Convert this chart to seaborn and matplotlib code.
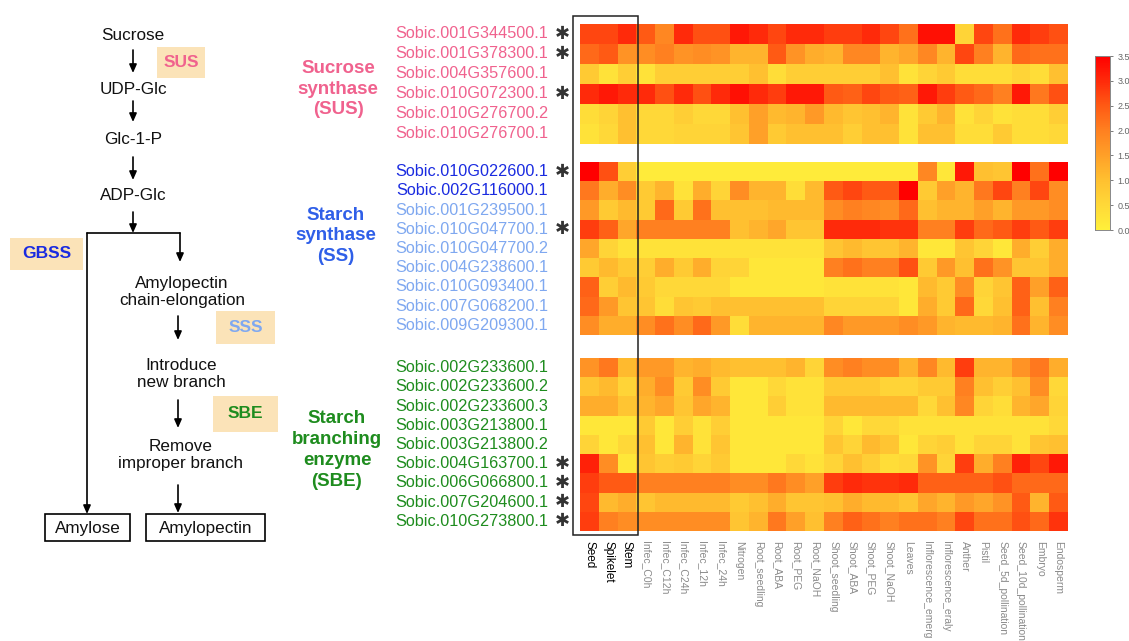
import numpy as np
import pandas as pd
import seaborn as sns
import matplotlib.pyplot as plt
from matplotlib.colors import LinearSegmentedColormap
from matplotlib.patches import Rectangle

# tissues / conditions (columns of the heatmap)
tissues = ["Seed", "Spikelet", "Stem", "Infec_C0h", "Infec_C12h", "Infec_C24h",
           "Infec_12h", "Infec_24h", "Nitrogen", "Root_seedling", "Root_ABA",
           "Root_PEG", "Root_NaOH", "Shoot_seedling", "Shoot_ABA", "Shoot_PEG",
           "Shoot_NaOH", "Leaves", "Inflorescence_emerg", "Inflorescence_eraly",
           "Anther", "Pistil", "Seed_5d_pollination", "Seed_10d_pollination",
           "Embryo", "Endosperm"]

sus_genes = ["Sobic.001G344500.1", "Sobic.001G378300.1", "Sobic.004G357600.1",
             "Sobic.010G072300.1", "Sobic.010G276700.2", "Sobic.010G276700.1"]
sus_star = [True, True, False, True, False, False]
sus_values = [
    [2.7, 2.7, 3.0, 2.5, 1.9, 3.0, 2.6, 2.6, 3.2, 3.0, 2.7, 3.0, 3.0, 2.8, 2.8, 3.0, 2.7, 2.2, 3.3, 3.3, 0.6, 2.7, 2.2, 3.0, 2.8, 2.6],
    [2.3, 2.5, 1.7, 1.8, 2.0, 1.7, 1.8, 1.7, 1.2, 1.2, 2.5, 1.7, 1.3, 1.2, 1.9, 1.9, 1.2, 1.4, 1.9, 1.2, 2.7, 2.0, 1.2, 2.3, 2.2, 2.2],
    [0.8, 0.3, 0.7, 0.3, 0.7, 0.7, 0.7, 0.7, 0.7, 1.0, 0.4, 0.7, 0.7, 0.7, 0.7, 0.7, 1.0, 0.3, 0.6, 0.8, 0.4, 0.4, 0.4, 0.6, 0.4, 1.0],
    [3.0, 3.2, 3.0, 3.0, 2.6, 3.0, 2.6, 3.0, 3.3, 3.0, 2.8, 3.2, 3.2, 2.5, 2.4, 2.7, 2.5, 2.4, 3.2, 2.8, 2.5, 2.3, 2.0, 3.2, 2.1, 2.6],
    [0.4, 0.6, 1.0, 0.5, 0.5, 0.7, 0.5, 0.5, 1.0, 1.5, 1.1, 1.2, 1.6, 1.1, 0.9, 1.0, 1.2, 0.3, 0.8, 1.2, 0.3, 0.6, 0.3, 0.4, 0.4, 0.7],
    [0.3, 0.5, 1.0, 0.5, 0.5, 0.6, 0.6, 0.6, 0.9, 1.5, 0.8, 1.0, 1.0, 1.0, 0.7, 1.0, 1.0, 0.3, 1.0, 1.0, 0.4, 0.4, 0.8, 0.4, 0.4, 0.5],
]

ss_genes = ["Sobic.010G022600.1", "Sobic.002G116000.1", "Sobic.001G239500.1",
            "Sobic.010G047700.1", "Sobic.010G047700.2", "Sobic.004G238600.1",
            "Sobic.010G093400.1", "Sobic.007G068200.1", "Sobic.009G209300.1"]
ss_star = [True, False, False, True, False, False, False, False, False]
ss_values = [
    [3.5, 2.6, 0.7, 0.1, 0.1, 0.1, 0.1, 0.1, 0.1, 0.1, 0.1, 0.1, 0.1, 0.1, 0.1, 0.1, 0.1, 0.1, 1.9, 0.2, 3.2, 1.0, 0.9, 3.5, 2.2, 3.5],
    [2.1, 1.3, 1.8, 0.8, 1.2, 0.3, 1.3, 0.6, 1.8, 1.2, 1.2, 0.4, 1.1, 2.5, 2.7, 2.5, 2.5, 3.5, 0.8, 1.5, 1.2, 2.1, 2.7, 2.0, 2.7, 1.8],
    [1.6, 0.8, 1.1, 0.8, 2.3, 0.8, 2.2, 1.0, 1.0, 1.0, 1.1, 1.1, 1.1, 1.8, 2.0, 1.9, 1.8, 2.3, 1.0, 1.2, 1.2, 1.5, 1.2, 1.6, 1.6, 1.8],
    [2.8, 2.4, 1.4, 2.0, 2.0, 2.0, 2.0, 2.0, 1.0, 1.2, 1.4, 0.9, 0.9, 3.0, 3.0, 3.0, 2.9, 2.9, 2.0, 2.0, 2.8, 2.3, 2.5, 2.8, 2.5, 2.8],
    [1.4, 0.6, 0.3, 0.3, 0.3, 0.3, 0.3, 0.3, 0.3, 0.3, 0.3, 0.3, 0.3, 0.9, 1.1, 0.9, 0.9, 1.2, 0.2, 0.2, 0.9, 0.6, 0.2, 1.3, 0.7, 1.3],
    [0.8, 1.1, 0.8, 0.7, 1.3, 0.8, 1.3, 0.6, 0.6, 0.2, 0.2, 0.2, 0.2, 2.0, 2.2, 2.0, 2.0, 2.6, 0.8, 1.6, 1.0, 2.2, 1.7, 0.9, 0.9, 1.3],
    [2.4, 0.7, 1.1, 0.8, 0.5, 0.5, 0.5, 0.5, 0.2, 0.2, 0.2, 0.2, 0.2, 0.3, 0.3, 0.3, 0.3, 0.2, 1.1, 0.8, 1.8, 0.6, 0.9, 2.4, 1.5, 2.4],
    [2.3, 1.6, 0.9, 0.9, 0.4, 0.9, 0.8, 1.0, 1.0, 1.0, 1.0, 1.0, 1.0, 0.6, 0.6, 0.6, 0.6, 0.2, 1.3, 0.8, 2.3, 0.5, 1.0, 2.4, 1.0, 2.0],
    [1.8, 1.3, 1.3, 1.8, 2.2, 1.8, 2.3, 1.6, 0.4, 1.2, 1.2, 1.2, 1.2, 1.9, 1.6, 1.6, 1.6, 1.8, 1.6, 1.2, 1.1, 1.1, 1.2, 2.2, 1.2, 1.8],
]

sbe_genes = ["Sobic.002G233600.1", "Sobic.002G233600.2", "Sobic.002G233600.3",
             "Sobic.003G213800.1", "Sobic.003G213800.2", "Sobic.004G163700.1",
             "Sobic.006G066800.1", "Sobic.007G204600.1", "Sobic.010G273800.1"]
sbe_star = [False, False, False, False, False, True, True, True, True]
sbe_values = [
    [1.7, 2.1, 1.1, 1.6, 1.6, 1.2, 1.3, 1.1, 1.0, 1.0, 1.0, 1.2, 0.6, 1.8, 2.0, 1.8, 1.8, 1.2, 1.9, 1.1, 2.8, 1.2, 1.2, 1.7, 2.1, 1.3],
    [0.9, 1.1, 0.6, 1.3, 1.8, 0.8, 1.8, 0.8, 0.2, 0.2, 0.5, 0.3, 0.3, 0.8, 0.8, 0.8, 0.6, 0.6, 0.8, 0.8, 2.0, 1.0, 0.7, 1.0, 1.8, 0.5],
    [1.3, 1.3, 0.9, 1.2, 1.4, 0.9, 1.4, 1.2, 0.2, 0.2, 0.7, 0.3, 0.3, 1.1, 1.1, 1.1, 1.1, 1.1, 0.5, 1.0, 1.9, 0.6, 0.4, 1.2, 1.4, 0.6],
    [0.2, 0.2, 0.2, 0.8, 0.2, 0.7, 0.3, 0.7, 0.2, 0.2, 0.2, 0.2, 0.2, 0.6, 0.2, 0.5, 0.5, 0.3, 0.3, 0.3, 0.3, 0.3, 0.3, 0.3, 0.3, 0.5],
    [0.6, 0.2, 0.5, 1.0, 0.2, 1.2, 0.3, 0.9, 0.2, 0.2, 0.2, 0.2, 0.2, 0.9, 0.6, 1.1, 0.9, 0.2, 0.6, 0.7, 0.3, 0.6, 0.6, 0.3, 0.9, 1.0],
    [3.1, 1.8, 0.2, 0.9, 0.7, 0.8, 0.6, 0.8, 0.2, 0.2, 0.2, 0.5, 0.3, 0.6, 1.0, 0.7, 0.4, 0.5, 1.7, 0.6, 2.8, 1.3, 2.0, 3.1, 2.7, 3.2],
    [2.8, 2.5, 2.5, 2.0, 2.0, 2.0, 2.0, 2.0, 1.8, 1.8, 2.1, 1.8, 1.5, 2.8, 3.0, 2.9, 2.9, 3.0, 2.4, 2.4, 2.4, 2.4, 2.6, 2.3, 2.3, 2.3],
    [2.7, 1.1, 1.3, 0.9, 1.1, 1.1, 1.1, 1.1, 0.8, 1.0, 1.3, 0.9, 0.9, 1.0, 1.3, 1.1, 1.1, 0.9, 1.4, 1.2, 1.6, 1.4, 1.7, 2.5, 1.2, 2.5],
    [2.8, 2.0, 1.8, 1.8, 1.8, 1.8, 1.8, 1.8, 0.9, 1.2, 2.1, 1.5, 1.0, 2.0, 2.4, 2.2, 2.0, 2.2, 2.2, 2.0, 2.7, 2.2, 2.2, 2.6, 2.3, 2.9],
]

sns.set_style("white")
plt.rcParams['font.family'] = ['Liberation Sans', 'DejaVu Sans']

W, H = 1129, 641
fig = plt.figure(figsize=(W / 100, H / 100), dpi=100)

heat_cmap = LinearSegmentedColormap.from_list(
    "yor", ["#FFF03A", "#FFD838", "#FFC030", "#FFA028", "#FF8020", "#FF5A14", "#FF2A0A", "#FF0000"])

pink = "#F0628E"
dark_blue = "#1A2BE0"
light_blue = "#7FA8F0"
green = "#1E8C1E"


def fig_box(x0, y0, x1, y1):
    # pixel box (top-left origin) -> figure fraction rect
    return [x0 / W, 1 - y1 / H, (x1 - x0) / W, (y1 - y0) / H]


hx0, hx1 = 580, 1068
blocks = [
    (sus_genes, sus_values, sus_star, [pink] * 6, (24, 144)),
    (ss_genes, ss_values, ss_star, [dark_blue] * 2 + [light_blue] * 7, (162, 335)),
    (sbe_genes, sbe_values, sbe_star, [green] * 9, (358, 531)),
]

cax = fig.add_axes(fig_box(1095, 56, 1110, 230))
axes = []
for i, (genes, vals, stars, colors, (y0, y1)) in enumerate(blocks):
    ax = fig.add_axes(fig_box(hx0, y0, hx1, y1))
    df = pd.DataFrame(vals, index=genes, columns=tissues)
    sns.heatmap(df, ax=ax, cmap=heat_cmap, vmin=0, vmax=3.5,
                cbar=(i == 0), cbar_ax=cax if i == 0 else None,
                xticklabels=(i == 2), yticklabels=False)
    ax.tick_params(left=False, bottom=False)
    for r, (g, c, s) in enumerate(zip(genes, colors, stars)):
        ax.text(-1.7, r + 0.5, g, color=c, fontsize=11.7, ha="right", va="center")
        if s:
            ax.text(-0.95, r + 0.5, "\u2731", color="#333333", fontsize=13,
                    ha="center", va="center", family="DejaVu Sans")
    axes.append(ax)

# column labels
ax_b = axes[2]
ax_b.set_xlabel("")
ax_b.set_xticks(np.arange(len(tissues)) + 0.5)
ax_b.set_xticklabels(tissues, rotation=270, ha="center", va="top")
ax_b.tick_params(axis="x", pad=4)
for k, lab in enumerate(ax_b.get_xticklabels()):
    if k < 3:
        lab.set_color("black")
        lab.set_fontsize(8.5)
    else:
        lab.set_color("#8a8a8a")
        lab.set_fontsize(7.5)

# colorbar
cax.tick_params(labelsize=6.5, colors="#666666", length=2, width=0.6)
cax.set_yticks([0, 0.5, 1.0, 1.5, 2.0, 2.5, 3.0, 3.5])
cax.set_yticklabels(["0.0", "0.5", "1.0", "1.5", "2.0", "2.5", "3.0", "3.5"])
for sp in cax.spines.values():
    sp.set_visible(True)
    sp.set_color("#888888")
    sp.set_linewidth(0.6)

# overlay for diagram and annotations (pixel coords)
ov = fig.add_axes([0, 0, 1, 1], zorder=5)
ov.set_xlim(0, W)
ov.set_ylim(H, 0)
ov.axis("off")
ov.patch.set_alpha(0)

# box around Seed / Spikelet / Stem
ov.add_patch(Rectangle((573, 16), 65, 519, fill=False, edgecolor="#222222", lw=1.1))

# group titles
title = dict(fontsize=13.5, fontweight="bold", ha="center", va="center", linespacing=1.3)
ov.text(338, 89, "Sucrose\nsynthase\n(SUS)", color=pink, **title)
ov.text(336, 236, "Starch\nsynthase\n(SS)", color="#2F5FE8", **title)
ov.text(337, 450, "Starch\nbranching\nenzyme\n(SBE)", color=green, **title)

# pathway diagram
arrow = dict(arrowstyle="-|>,head_length=0.5,head_width=0.22", color="black", lw=1.2,
             shrinkA=0, shrinkB=0)


def down_arrow(x, ya, yb):
    ov.annotate("", xy=(x, yb), xytext=(x, ya), arrowprops=arrow)


txt = dict(fontsize=12.3, ha="center", va="center", color="#111111")
ov.text(133, 35, "Sucrose", **txt)
ov.text(133, 90, "UDP-Glc", **txt)
ov.text(133, 140, "Glc-1-P", **txt)
ov.text(133, 195, "ADP-Glc", **txt)
ov.text(182, 292, "Amylopectin\nchain-elongation", linespacing=1.15, **txt)
ov.text(181, 374, "Introduce\nnew branch", linespacing=1.15, **txt)
ov.text(181, 455, "Remove\nimproper branch", linespacing=1.15, **txt)

down_arrow(133, 50, 73)
down_arrow(133, 101, 122)
down_arrow(133, 157, 180)
down_arrow(133, 212, 233)
ov.plot([87, 180], [233, 233], color="black", lw=1.2)
down_arrow(87, 233, 514)
down_arrow(180, 233, 262)
down_arrow(178, 316, 340)
down_arrow(178, 400, 428)
down_arrow(178, 485, 513)

ov.add_patch(Rectangle((45, 514), 85, 27, fill=False, edgecolor="black", lw=1.2))
ov.text(88, 528, "Amylose", **txt)
ov.add_patch(Rectangle((146, 514), 119, 27, fill=False, edgecolor="black", lw=1.2))
ov.text(206, 528, "Amylopectin", **txt)

# enzyme tags
tag_fill = "#FBE3B8"
for (x0, y0, x1, y1, name, col) in [(157, 47, 205, 78, "SUS", pink),
                                     (10, 238, 83, 270, "GBSS", dark_blue),
                                     (216, 311, 275, 344, "SSS", light_blue),
                                     (213, 396, 278, 432, "SBE", green)]:
    ov.add_patch(Rectangle((x0, y0), x1 - x0, y1 - y0, facecolor=tag_fill, edgecolor="none"))
    ov.text((x0 + x1) / 2, (y0 + y1) / 2, name, color=col, fontsize=12.5, fontweight="bold",
            ha="center", va="center")

fig.savefig("out.png", dpi=100)
